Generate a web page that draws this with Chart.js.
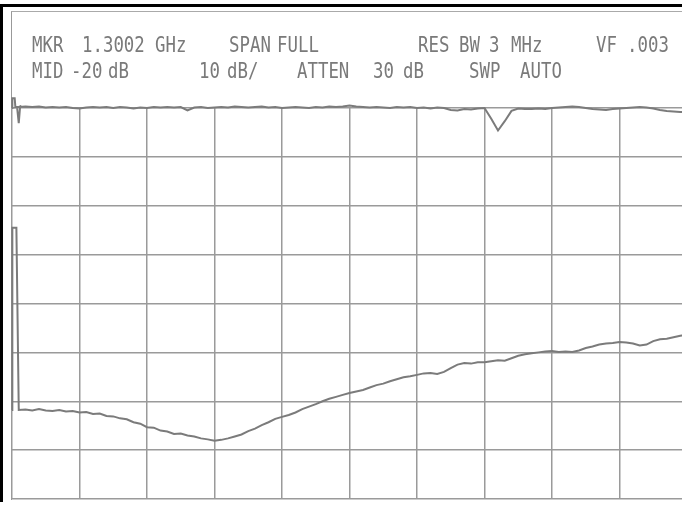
<!DOCTYPE html>
<html>
<head>
<meta charset="utf-8">
<script src="https://cdn.jsdelivr.net/npm/chart.js@4"></script>
<style>
    body { margin: 0; background: #fff; }
    #wrap { position: relative; width: 682px; height: 508px; overflow: hidden; }
    #plot { position: absolute; left: 0; top: 0; }
    .frame-top { position: absolute; left: 0; top: 4px; width: 682px; height: 3px; background: #000; }
    .frame-left { position: absolute; left: 0; top: 4px; width: 3px; height: 498px; background: #000; }
    .inner { position: absolute; left: 11px; top: 11px; width: 700px; height: 488px;
        border-top: 1px solid #aaa; border-left: 1px solid #999; }
    .lbl { position: absolute; font-family: "DejaVu Sans Mono", monospace; font-size: 22px;
        line-height: 22px; color: #7a7a7a; white-space: pre; transform: scaleX(0.79);
        transform-origin: 0 0; }
</style>
</head>
<body>
<div id="wrap">
    <div class="frame-top"></div>
    <div class="frame-left"></div>
    <div class="inner"></div>
    <canvas id="plot" width="700" height="508"></canvas>
    <div id="header"></div>
</div>
<script>
// x positions in screen divisions (0..10), y in dB (MID -20 dB, 10 dB/div)
const step = 0.1;

// start of each trace (marker bump / LO feedthrough)
const topStartX = [0, 0.005, 0.04, 0.05, 0.075, 0.1, 0.12];
const topStartY = [20.0, 22.0, 22.0, 20.2, 20.2, 16.9, 20.3];
const lowStartX = [0, 0.005, 0.065];
const lowStartY = [-41.8, -4.5, -4.5];

// upper trace, divisions 0.1 .. 10.0
const topTrace = [
    20.2, 20.3, 20.2, 20.3, 20.1, 20.2, 20.1, 20.2, 20.0, 19.9,
    20.1, 20.2, 20.1, 20.2, 20.0, 20.2, 20.1, 19.9, 20.1, 20.0,
    20.2, 20.1, 20.2, 20.1, 20.2, 19.5, 20.1, 20.2, 20.0, 20.1,
    20.2, 20.1, 20.3, 20.2, 20.1, 20.2, 20.3, 20.1, 20.2, 20.0,
    20.1, 20.2, 20.1, 20.0, 20.2, 20.1, 20.3, 20.2, 20.3, 20.5,
    20.3, 20.2, 20.1, 20.2, 20.1, 20.0, 20.2, 20.1, 20.2, 20.0,
    20.1, 19.9, 20.1, 20.0, 19.6, 19.5, 19.8, 19.7, 19.9, 20.0,
    17.8, 15.4, 17.3, 19.4, 19.9, 19.8, 19.8, 19.9, 19.8, 20.0,
    20.1, 20.2, 20.3, 20.2, 20.0, 19.8, 19.7, 19.6, 19.8, 19.9,
    20.0, 20.1, 20.2, 20.1, 19.9, 19.6, 19.4, 19.3, 19.2, 19.2
];

// lower trace, divisions 0.1 .. 10.0
const lowTrace = [
    -41.8, -41.7, -41.9, -41.6, -41.9, -42.0, -41.8, -42.1, -42.0, -42.3,
    -42.2, -42.6, -42.5, -43.0, -43.1, -43.5, -43.7, -44.3, -44.6, -45.3,
    -45.4, -46.0, -46.2, -46.7, -46.6, -47.0, -47.2, -47.6, -47.8, -48.1,
    -47.9, -47.6, -47.2, -46.8, -46.1, -45.6, -44.9, -44.3, -43.6, -43.2,
    -42.8, -42.3, -41.6, -41.1, -40.6, -40.0, -39.5, -39.1, -38.7, -38.3,
    -38.0, -37.7, -37.2, -36.7, -36.4, -35.9, -35.5, -35.1, -34.9, -34.6,
    -34.3, -34.2, -34.4, -34.0, -33.2, -32.5, -32.2, -32.3, -32.0, -32.0,
    -31.8, -31.6, -31.7, -31.2, -30.7, -30.4, -30.2, -30.0, -29.8, -29.7,
    -29.9, -29.8, -29.9, -29.6, -29.1, -28.8, -28.4, -28.2, -28.1, -27.9,
    -28.0, -28.2, -28.6, -28.4, -27.7, -27.3, -27.2, -26.9, -26.6, -26.4
];

// header readout: text, left x, row
const headerText = ["MKR", "1.3002", "GHz", "SPAN", "FULL", "RES", "BW", "3", "MHz", "VF", ".003",
                    "MID", "-20", "dB", "10", "dB/", "ATTEN", "30", "dB", "SWP", "AUTO"];
const headerX = [32, 82, 155, 229, 277, 418, 459, 489, 511, 596, 627,
                 32, 71, 108, 199, 227, 297, 373, 403, 469, 520];
const headerRow = [0, 0, 0, 0, 0, 0, 0, 0, 0, 0, 0,
                   1, 1, 1, 1, 1, 1, 1, 1, 1, 1];

function buildHeader() {
    let box = document.getElementById("header");
    box.innerHTML = headerText.map((t, i) =>
        `<div class="lbl" style="left:${headerX[i]}px;top:${headerRow[i] ? 60 : 34}px">${t}</div>`
    ).join("");
}

function toPoints(startX, startY, trace) {
    let pts = startX.map((x, i) => ({ x, y: startY[i] }));
    trace.forEach((v, i) => pts.push({ x: (i + 1) * step, y: v }));
    return pts;
}

function drawChart() {
    let ctx = document.getElementById("plot").getContext("2d");
    let traceStyle = {
        borderColor: "#7b7b7b",
        borderWidth: 2,
        pointRadius: 0,
        tension: 0,
        clip: false
    };
    let gridStyle = { color: "#9a9a9a", lineWidth: 1.5, drawTicks: false };

    new Chart(ctx, {
        type: "line",
        data: {
            datasets: [
                { label: "Trace A", data: toPoints(topStartX, topStartY, topTrace), ...traceStyle },
                { label: "Trace B", data: toPoints(lowStartX, lowStartY, lowTrace), ...traceStyle }
            ]
        },
        options: {
            responsive: false,
            animation: false,
            layout: { padding: { left: 12, right: 13, top: 108, bottom: 9 } },
            plugins: { legend: { display: false }, tooltip: { enabled: false } },
            scales: {
                x: {
                    type: "linear", min: 0, max: 10,
                    ticks: { display: false, stepSize: 1 },
                    grid: gridStyle,
                    border: { display: false }
                },
                y: {
                    min: -60, max: 20,
                    ticks: { display: false, stepSize: 10 },
                    grid: gridStyle,
                    border: { display: false }
                }
            }
        }
    });
}

buildHeader();
drawChart();
</script>
</body>
</html>
